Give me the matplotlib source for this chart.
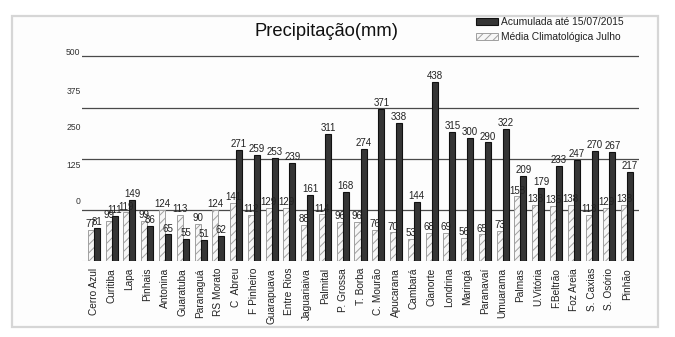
import matplotlib
matplotlib.use("Agg")
import matplotlib.pyplot as plt
from matplotlib.patches import Rectangle, Patch
import numpy as np

categories = ["Cerro Azul", "Curitiba", "Lapa", "Pinhais", "Antonina", "Guaratuba",
              "Paranaguá", "RS Morato", "C  Abreu", "F Pinheiro", "Guarapuava",
              "Entre Rios", "Jaguariaiva", "Palmital", "P. Grossa", "T. Borba",
              "C. Mourão", "Apucarana", "Cambará", "Cianorte", "Londrina", "Maringá",
              "Paranavaí", "Umuarama", "Palmas", "U.Vitória", "F.Beltrão",
              "Foz Areia", "S. Caxias", "S. Osório", "Pinhão"]
media_julho = [77, 99, 119, 99, 124, 113, 90, 124, 141, 112, 129, 129, 88, 114, 96,
               96, 76, 70, 53, 68, 69, 56, 65, 73, 158, 138, 135, 138, 113, 129, 138]
acumulada = [81, 111, 149, 86, 65, 55, 51, 62, 271, 259, 253, 239, 161, 311, 168,
             274, 371, 338, 144, 438, 315, 300, 290, 322, 209, 179, 233, 247, 270,
             267, 217]
ytick_labels = ["0", "125", "250", "375", "500"]
grid_values = [125, 250, 375, 500]

plt.rcParams["font.family"] = ["Liberation Sans", "DejaVu Sans"]
plt.rcParams["hatch.linewidth"] = 0.7

W, H = 675, 337
fig = plt.figure(figsize=(W / 100, H / 100), dpi=100)
fig.patch.set_facecolor("white")

# outer frame
fig.patches.append(Rectangle((12 / W, 1 - 327 / H), (658 - 12) / W, (327 - 16) / H,
                             transform=fig.transFigure, fill=True, facecolor="#fdfdfd",
                             edgecolor="#d6d6d6", lw=1.6, zorder=-10))

ax = fig.add_axes([82 / W, 1 - 261 / H, (639 - 82) / W, (261 - 45) / H])
ax.set_facecolor("none")
for s in ax.spines.values():
    s.set_visible(False)

x = np.arange(len(categories))
bw = 0.34
b1 = ax.bar(x - bw / 2, media_julho, bw, facecolor="#f7f7f7", edgecolor="#a0a0a0",
            hatch="////", lw=0.7, zorder=3, label="Média Climatológica Julho")
b2 = ax.bar(x + bw / 2, acumulada, bw, facecolor="#353535", edgecolor="#111111",
            lw=0.8, zorder=3, label="Acumulada até 15/07/2015")

for xi, v in zip(x, media_julho):
    ax.text(xi - bw / 2, v + 2, str(v), ha="center", va="bottom", fontsize=7,
            color="#222222", zorder=4)
for xi, v in zip(x, acumulada):
    ax.text(xi + bw / 2, v + 2, str(v), ha="center", va="bottom", fontsize=7,
            color="#222222", zorder=4)

for g in grid_values:
    ax.axhline(g, color="#4a4a4a", lw=0.9, zorder=2)
ax.axhline(0, color="#bbbbbb", lw=0.8, zorder=2)

ax.set_xlim(-0.67, len(categories) - 1 + 0.67)
ax.set_ylim(0, 528)
ax.set_xticks(x)
ax.set_xticklabels(categories, rotation=90, fontsize=7.3, color="#222222")
ax.tick_params(axis="x", length=0, pad=5)
ax.set_yticks([147, 237, 328, 418, 511])
ax.set_yticklabels(ytick_labels, fontsize=6.2, color="#333333")
ax.tick_params(axis="y", length=0, pad=1)

fig.text(326 / W, 1 - 31 / H, "Precipitação(mm)", ha="center", va="center",
         fontsize=13.2, color="#111111")

leg = ax.legend(handles=[b2, b1], loc="upper left",
                bbox_to_anchor=(476 / W, 1 - 17 / H), bbox_transform=fig.transFigure,
                frameon=False, fontsize=7.4, handlelength=2.1, handleheight=0.65,
                handletextpad=0.3, labelspacing=0.5, borderpad=0, borderaxespad=0)
for t in leg.get_texts():
    t.set_color("#222222")

fig.savefig("out.png", dpi=100, facecolor="white")
